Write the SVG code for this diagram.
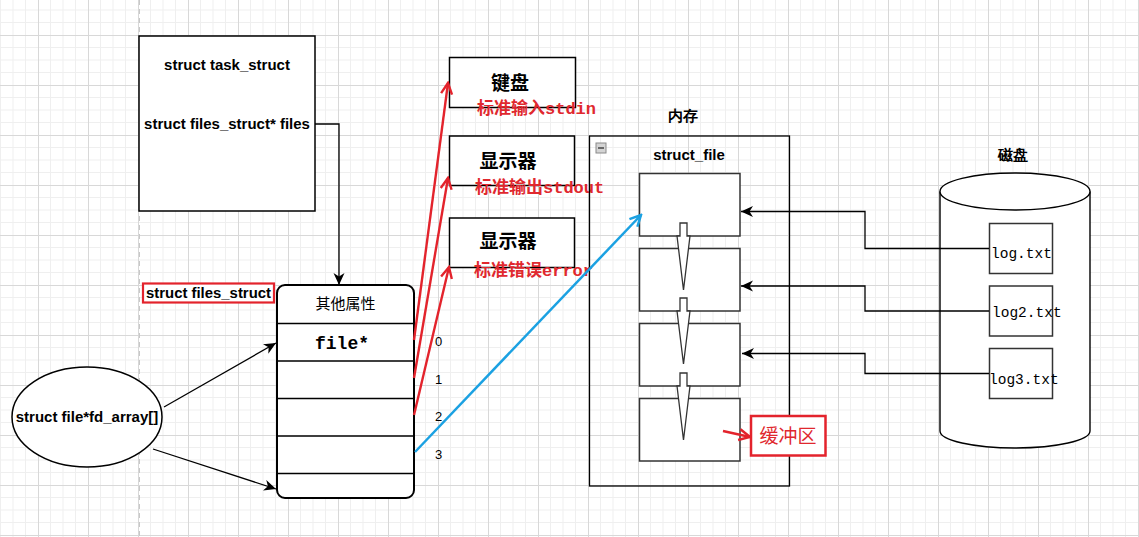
<svg xmlns="http://www.w3.org/2000/svg" width="1139" height="537" viewBox="0 0 1139 537">
<defs>
<pattern id="grid" patternUnits="userSpaceOnUse" x="38" y="35" width="50" height="50">
<path d="M12.5 0V50M25 0V50M37.5 0V50M0 12.5H50M0 25H50M0 37.5H50" stroke="#efefef" stroke-width="1" fill="none"/>
<path d="M0.5 0V50M0 0.5H50" stroke="#d8d8d8" stroke-width="1" fill="none"/>
</pattern>
<marker id="blk" markerUnits="userSpaceOnUse" markerWidth="14" markerHeight="12" refX="12" refY="6" orient="auto" viewBox="0 0 14 12">
<path d="M0 0.5L12 6L0 11.5L3.5 6Z" fill="#000"/>
</marker>
<marker id="red" markerUnits="userSpaceOnUse" markerWidth="14" markerHeight="14" refX="12" refY="7" orient="auto" viewBox="0 0 14 14">
<path d="M1 1.5L12 7L1 12.5" fill="none" stroke="#e3232c" stroke-width="2.4"/>
</marker>
<marker id="blue" markerUnits="userSpaceOnUse" markerWidth="14" markerHeight="14" refX="12" refY="7" orient="auto" viewBox="0 0 14 14">
<path d="M1 1.5L12 7L1 12.5" fill="none" stroke="#1ba1e2" stroke-width="2.5"/>
</marker>
</defs>
<style>
.b{font-family:"Liberation Sans",Arial,sans-serif;font-weight:bold;font-size:15px;fill:#000}
.cj{font-family:"Noto Sans CJK SC",sans-serif;fill:#000}
.mono{font-family:"Liberation Mono","Noto Sans CJK SC",monospace;fill:#000}
.rt{font-family:"Liberation Mono","Noto Sans CJK SC",monospace;font-size:17px;font-weight:bold;fill:#e0282e}
.box{fill:#fff;stroke:#000;stroke-width:1.5}
.ibox{fill:#fff;stroke:#333;stroke-width:1.5}
.ln{fill:none;stroke:#000;stroke-width:1.3}
.rl{fill:none;stroke:#e3232c;stroke-width:2.4}
.num{font-family:"Liberation Sans",Arial,sans-serif;font-size:13px;fill:#000}
</style>
<rect width="1139" height="537" fill="#fff"/>
<rect width="1139" height="537" fill="url(#grid)"/>
<line x1="139.5" y1="0" x2="139.5" y2="537" stroke="#c8c8c8" stroke-width="1" stroke-dasharray="5 4"/>

<g id="task_struct">
<rect class="box" x="139" y="36" width="176" height="175"/>
<text class="b" x="227" y="70" text-anchor="middle">struct task_struct</text>
<text class="b" x="227" y="129" text-anchor="middle">struct files_struct* files</text>
</g>

<g id="files_struct_label">
<rect x="143" y="283.5" width="131" height="19" fill="#fff" stroke="#e3232c" stroke-width="2.2"/>
<text class="b" x="208.5" y="298" text-anchor="middle" textLength="125" lengthAdjust="spacingAndGlyphs">struct files_struct</text>
</g>

<g id="files_struct">
<rect x="277" y="285" width="137" height="213" rx="8" fill="#fff" stroke="#000" stroke-width="2"/>
<path d="M277 323.5H414M277 361H414M277 398.5H414M277 436H414M277 473.5H414" stroke="#000" stroke-width="1.5"/>
<text class="cj" x="345.5" y="309" font-size="15" text-anchor="middle">其他属性</text>
<text class="mono" x="342" y="349" font-size="18" font-weight="bold" text-anchor="middle">file*</text>
</g>

<g id="fd_array">
<ellipse cx="87" cy="417" rx="75" ry="50" fill="#fff" stroke="#000" stroke-width="1.5"/>
<text class="b" x="87" y="422" text-anchor="middle">struct file*fd_array[]</text>
</g>

<g id="fd_numbers">
<text class="num" x="435" y="346">0</text>
<text class="num" x="435" y="384">1</text>
<text class="num" x="435" y="421">2</text>
<text class="num" x="435" y="459">3</text>
</g>

<g id="keyboard">
<rect class="box" x="449.5" y="57.5" width="126" height="50" stroke-width="1.2"/>
<text class="cj" x="510" y="90" font-size="19" font-weight="bold" text-anchor="middle">键盘</text>
<text class="rt" x="477" y="114">标准输入stdin</text>
</g>

<g id="display_out">
<rect class="box" x="449.5" y="136" width="125" height="49.5" stroke-width="1.2"/>
<text class="cj" x="508" y="168" font-size="19" font-weight="bold" text-anchor="middle">显示器</text>
<text class="rt" x="475" y="193">标准输出stdout</text>
</g>

<g id="display_err">
<rect class="box" x="449.5" y="218" width="125" height="49.5" stroke-width="1.2"/>
<text class="cj" x="508" y="248" font-size="19" font-weight="bold" text-anchor="middle">显示器</text>
<text class="rt" x="474" y="276">标准错误error</text>
</g>

<g id="memory">
<text class="b" x="683" y="121" text-anchor="middle">内存</text>
<rect x="589.5" y="136" width="200" height="350" fill="none" stroke="#000" stroke-width="1.3"/>
<rect x="596" y="143" width="10" height="10" fill="#d4d4d4" stroke="#8a8a8a" stroke-width="1"/>
<line x1="598" y1="148" x2="604" y2="148" stroke="#444" stroke-width="1.5"/>
<text class="b" x="689" y="160" text-anchor="middle">struct_file</text>
</g>

<g id="file1"><rect class="ibox" x="639.5" y="173.5" width="100.5" height="62.5"/></g>
<g id="file2"><rect class="ibox" x="639.5" y="248.5" width="100.5" height="62.5"/></g>
<g id="file3"><rect class="ibox" x="639.5" y="323.5" width="100.5" height="62.5"/></g>
<g id="file4"><rect class="ibox" x="639.5" y="398.5" width="100.5" height="62.5"/></g>

<g id="buffer">
<rect x="751" y="416" width="74.5" height="39.5" fill="#fff" stroke="#e3232c" stroke-width="2.5"/>
<text class="cj" x="788" y="443" font-size="19" text-anchor="middle" style="fill:#e0282e">缓冲区</text>
</g>

<g id="disk">
<text class="b" x="1013" y="160" text-anchor="middle">磁盘</text>
<path d="M940 191.5V431A75 17 0 0 0 1090 431V191.5" fill="#fff" stroke="#000" stroke-width="1.4"/>
<ellipse cx="1015" cy="191.5" rx="75" ry="18.5" fill="#fff" stroke="#000" stroke-width="1.4"/>
</g>
<g id="log1">
<rect class="ibox" x="989.5" y="223.5" width="63" height="50"/>
<text class="mono" x="991" y="258" font-size="14.5">log.txt</text>
</g>
<g id="log2">
<rect class="ibox" x="989.5" y="286" width="63" height="50"/>
<text class="mono" x="992" y="316.5" font-size="14.5">log2.txt</text>
</g>
<g id="log3">
<rect class="ibox" x="989.5" y="348.5" width="63" height="50"/>
<text class="mono" x="989" y="384" font-size="14.5">log3.txt</text>
</g>

<g id="connectors">
<polyline class="ln" points="315,124 339,124 339,285" marker-end="url(#blk)"/>
<line class="ln" x1="164" y1="407" x2="276" y2="343" marker-end="url(#blk)"/>
<line class="ln" x1="153" y1="449" x2="276" y2="489" marker-end="url(#blk)"/>
<line class="rl" x1="414" y1="340" x2="448" y2="83" marker-end="url(#red)"/>
<line class="rl" x1="414" y1="378" x2="448" y2="178" marker-end="url(#red)"/>
<line class="rl" x1="414" y1="415" x2="449" y2="267" marker-end="url(#red)"/>
<line x1="415" y1="452" x2="641" y2="215" stroke="#1ba1e2" stroke-width="2.5" marker-end="url(#blue)"/>
<line class="rl" x1="723" y1="431" x2="750" y2="437" marker-end="url(#red)"/>
<polyline class="ln" points="989,248.5 865,248.5 865,211.5 741,211.5" marker-end="url(#blk)"/>
<polyline class="ln" points="989,311 865,311 865,286 741,286" marker-end="url(#blk)"/>
<polyline class="ln" points="989,373.5 865,373.5 865,353.5 742,353.5" marker-end="url(#blk)"/>
<path d="M680 223H687V236H690L683.5 290L677 236H680Z" fill="#fff" stroke="#333" stroke-width="1.3"/>
<path d="M680 298H687V311H690L683.5 364L677 311H680Z" fill="#fff" stroke="#333" stroke-width="1.3"/>
<path d="M680 373H687V386H690L683.5 440L677 386H680Z" fill="#fff" stroke="#333" stroke-width="1.3"/>
</g>
</svg>
